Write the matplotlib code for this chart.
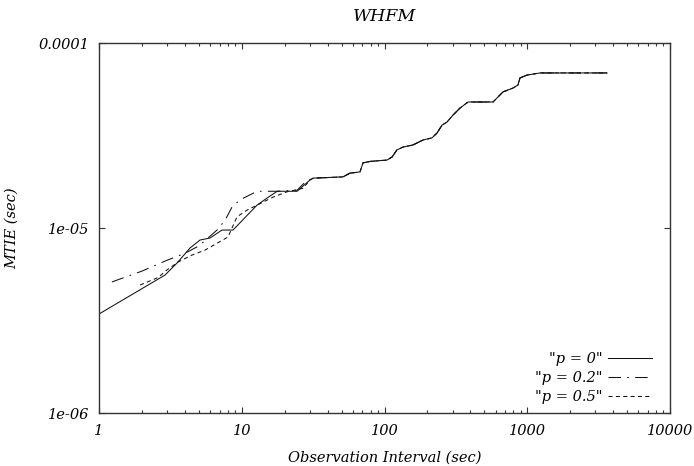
import matplotlib
matplotlib.use("Agg")
import matplotlib.pyplot as plt
from matplotlib.ticker import FixedLocator, FixedFormatter, NullLocator, LogLocator

# observation interval (sec) and MTIE (sec)
tail_x = [51.2, 57.3, 67.3, 70.7, 79.1, 104, 113, 122, 135, 158, 186, 215,
          233, 253, 274, 302, 338, 385, 576, 624, 676, 795, 861, 889, 996,
          1228, 3620]
tail_y = [1.89e-5, 1.98e-5, 2.01e-5, 2.25e-5, 2.29e-5, 2.33e-5, 2.42e-5,
          2.64e-5, 2.74e-5, 2.81e-5, 2.99e-5, 3.07e-5, 3.26e-5, 3.60e-5,
          3.74e-5, 4.08e-5, 4.45e-5, 4.80e-5, 4.80e-5, 5.11e-5, 5.44e-5,
          5.71e-5, 5.93e-5, 6.47e-5, 6.71e-5, 6.89e-5, 6.89e-5]

p0_x = [1.0, 2.9, 3.52, 4.34, 5.10, 5.99, 7.27, 8.68, 10.9, 12.8, 15.0,
        17.7, 24.4, 30.1, 31.6]
p0_y = [3.43e-6, 5.57e-6, 6.47e-6, 7.80e-6, 8.61e-6, 8.83e-6, 9.75e-6,
        9.75e-6, 1.17e-5, 1.33e-5, 1.45e-5, 1.58e-5, 1.58e-5, 1.82e-5,
        1.86e-5]

p02_x = [1.23, 2.0, 3.0, 4.0, 5.0, 6.71, 7.63, 8.55, 9.72, 12.8, 17.7,
         24.4, 28.0, 31.6]
p02_y = [5.11e-6, 5.85e-6, 6.70e-6, 7.30e-6, 8.00e-6, 9.75e-6, 1.10e-5,
         1.30e-5, 1.42e-5, 1.58e-5, 1.58e-5, 1.60e-5, 1.78e-5, 1.86e-5]

p05_x = [1.94, 2.59, 2.99, 3.58, 4.48, 5.53, 8.01, 9.26, 10.9, 12.8, 16.6,
         20.8, 26.9, 30.1, 31.6]
p05_y = [4.92e-6, 5.40e-6, 5.93e-6, 6.55e-6, 7.14e-6, 7.60e-6, 8.94e-6,
         1.15e-5, 1.25e-5, 1.33e-5, 1.47e-5, 1.57e-5, 1.64e-5, 1.82e-5,
         1.86e-5]

x_ticks = [1, 10, 100, 1000, 10000]
x_labels = ["1", "10", "100", "1000", "10000"]
y_ticks = [1e-6, 1e-5, 1e-4]
y_labels = ["1e-06", "1e-05", "0.0001"]

plt.rcParams["font.family"] = ["DejaVu Serif"]
plt.rcParams["font.style"] = "italic"
plt.rcParams["font.size"] = 10.5
plt.rcParams["lines.scale_dashes"] = False

fig = plt.figure(figsize=(6.94, 4.66), dpi=100)
ax = fig.add_axes([0.1427, 0.1137, 0.8227, 0.794])

ax.plot(p0_x + tail_x, p0_y + tail_y, color="#111111", lw=0.75, label='"p = 0"')
ax.plot(p02_x + tail_x, p02_y + tail_y, color="#111111", lw=0.75,
        dashes=(9.0, 4.5, 1.2, 4.5), label='"p = 0.2"')
ax.plot(p05_x + tail_x, p05_y + tail_y, color="#111111", lw=0.75,
        dashes=(2.9, 2.4), label='"p = 0.5"')

ax.set_xscale("log")
ax.set_yscale("log")
ax.set_xlim(1, 10000)
ax.set_ylim(1e-6, 1e-4)

ax.xaxis.set_major_locator(FixedLocator(x_ticks))
ax.xaxis.set_major_formatter(FixedFormatter(x_labels))
ax.xaxis.set_minor_locator(LogLocator(base=10, subs=range(2, 10)))
ax.yaxis.set_major_locator(FixedLocator(y_ticks))
ax.yaxis.set_major_formatter(FixedFormatter(y_labels))
ax.yaxis.set_minor_locator(NullLocator())

ax.tick_params(which="both", direction="in", top=True, right=True,
               color="#333333")
ax.tick_params(which="major", length=4, width=0.8, pad=8)
ax.tick_params(which="minor", length=2.5, width=0.8)
ax.tick_params(axis="y", pad=7)
for s in ax.spines.values():
    s.set_linewidth(1.0)
    s.set_color("#333333")

ax.set_title("WHFM", pad=16)
ax.set_xlabel("Observation Interval (sec)", labelpad=9)
ax.set_ylabel("MTIE (sec)", labelpad=14)

ax.legend(loc="lower right", bbox_to_anchor=(0.968, 0.025), frameon=False,
          markerfirst=False, handlelength=3.0, handletextpad=0.35,
          labelspacing=0.33, borderpad=0.0, borderaxespad=0.0)

fig.savefig("out.png", dpi=100)
